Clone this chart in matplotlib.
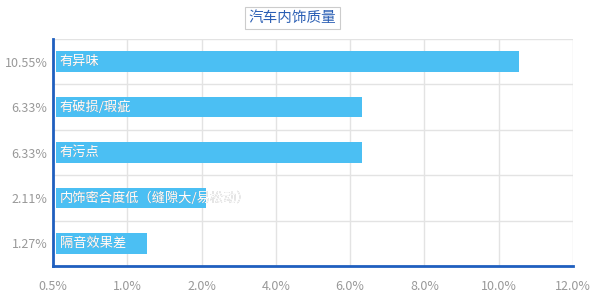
import numpy as np
import matplotlib
matplotlib.use("Agg")
import matplotlib.pyplot as plt

plt.rcParams['font.family'] = ['Noto Sans CJK SC', 'DejaVu Sans']

title = "汽车内饰质量"
categories = ["有异味", "有破损/瑕疵", "有污点", "内饰密合度低（缝隙大/易松动）", "隔音效果差"]
values = [10.55, 6.33, 6.33, 2.11, 1.27]
value_labels = ["10.55%", "6.33%", "6.33%", "2.11%", "1.27%"]
x_ticks = [0.5, 1.0, 2.0, 4.0, 6.0, 8.0, 10.0, 12.0]
x_tick_labels = ["0.5%", "1.0%", "2.0%", "4.0%", "6.0%", "8.0%", "10.0%", "12.0%"]

bar_color = "#4bbff3"
axis_blue = "#1f5fbf"
grid_grey = "#e3e3e3"
text_grey = "#999999"

# the original axis spaces its labels evenly, so map them piecewise
idx = np.arange(len(x_ticks), dtype=float)


def fwd(v):
    return np.interp(v, x_ticks, idx)


def inv(v):
    return np.interp(v, idx, x_ticks)


fig = plt.figure(figsize=(6, 3), dpi=100)
ax = fig.add_axes([53 / 600, 34 / 300, 520 / 600, 227 / 300])
ax.set_xscale('function', functions=(fwd, inv))
ax.set_xlim(0.5, 12.0)

n = len(categories)
ypos = np.arange(n)
ax.set_ylim(n - 0.5, -0.5)

bars = ax.barh(ypos, [v - 0.52 for v in values], left=0.52, height=0.45,
               color=bar_color, zorder=2)

trans = ax.get_yaxis_transform()
for y, cat, bar in zip(ypos, categories, bars):
    ax.text(0.013, y, cat, transform=trans, color=text_grey, fontsize=9.5,
            va='center', ha='left', zorder=3)
    t = ax.text(0.013, y, cat, transform=trans, color='white', fontsize=9.5,
                va='center', ha='left', zorder=4)
    t.set_clip_path(bar)

ax.set_xticks(x_ticks)
ax.set_xticklabels(x_tick_labels)
ax.set_yticks(ypos)
ax.set_yticklabels(value_labels)
ax.tick_params(axis='both', length=0, colors=text_grey, labelsize=9)
ax.tick_params(axis='x', pad=10)
ax.tick_params(axis='y', pad=4)

for xt in x_ticks:
    ax.axvline(xt, color=grid_grey, lw=1, zorder=0)
for yb in np.arange(-0.5, n, 1.0):
    ax.axhline(yb, color=grid_grey, lw=1, zorder=0)

for side in ['top', 'right']:
    ax.spines[side].set_visible(False)
for side in ['left', 'bottom']:
    ax.spines[side].set_color(axis_blue)
    ax.spines[side].set_linewidth(2)
    ax.spines[side].set_zorder(5)

fig.text(0.487, 0.94, title, color="#2b5fb4", fontsize=10.5, ha='center', va='center',
         bbox=dict(boxstyle='square,pad=0.25', fc='white', ec='#cccccc', lw=0.8))

fig.savefig("out.png", dpi=100, facecolor='white')
